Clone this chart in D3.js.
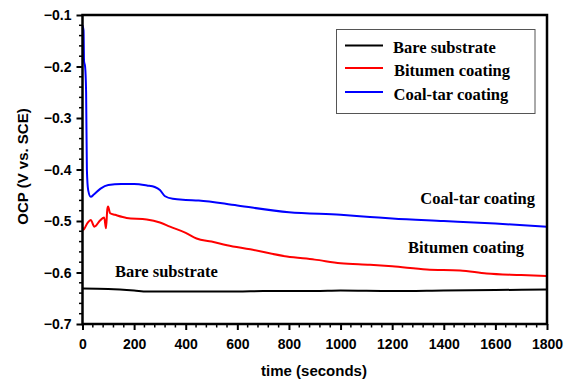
<!DOCTYPE html>
<html>
<head>
<meta charset="utf-8">
<script src="https://cdn.jsdelivr.net/npm/d3@7/dist/d3.min.js"></script>
<style>
  html, body { margin: 0; padding: 0; background: #fff; }
  svg { display: block; }
</style>
</head>
<body>
<svg id="chart" width="568" height="380"></svg>
<script>
// Open circuit potential vs. time for three specimens
const bareTime  = [0, 100, 200, 250, 400, 600, 700, 900, 1000, 1200, 1400, 1600, 1800];
const bareOCP   = [-0.631, -0.632, -0.635, -0.637, -0.637, -0.637, -0.636, -0.636, -0.635, -0.636, -0.635, -0.634, -0.633];

const bitTime = [0, 3, 19, 32, 46, 68, 84, 91, 96, 99, 107, 126, 171, 249, 300, 339, 400, 442, 500, 560, 650, 792, 900, 1000, 1114, 1200, 1334, 1463, 1566, 1700, 1800];
const bitOCP  = [-0.512, -0.517, -0.504, -0.498, -0.511, -0.499, -0.493, -0.514, -0.478, -0.472, -0.485, -0.488, -0.494, -0.497, -0.503, -0.511, -0.523, -0.534, -0.540, -0.547, -0.555, -0.569, -0.575, -0.582, -0.585, -0.588, -0.594, -0.596, -0.602, -0.605, -0.607];

const tarTime = [0, 4, 6, 10, 14, 17, 22, 32, 45, 70, 100, 150, 200, 250, 280, 300, 320, 350, 400, 450, 600, 800, 1000, 1114, 1200, 1400, 1600, 1800];
const tarOCP  = [-0.12, -0.13, -0.19, -0.2, -0.25, -0.4, -0.44, -0.453, -0.448, -0.437, -0.430, -0.428, -0.428, -0.431, -0.434, -0.440, -0.452, -0.457, -0.459, -0.460, -0.470, -0.483, -0.488, -0.492, -0.495, -0.500, -0.505, -0.511];

const seriesNames  = ["Bare substrate", "Bitumen coating", "Coal-tar coating"];
const seriesColors = ["#000000", "#ff0000", "#0000ff"];
const xTicks = [0, 200, 400, 600, 800, 1000, 1200, 1400, 1600, 1800];
const yTicks = [-0.1, -0.2, -0.3, -0.4, -0.5, -0.6, -0.7];

const series = [
  { name: seriesNames[0], color: seriesColors[0], t: bareTime, v: bareOCP },
  { name: seriesNames[1], color: seriesColors[1], t: bitTime,  v: bitOCP },
  { name: seriesNames[2], color: seriesColors[2], t: tarTime,  v: tarOCP }
];

const svg = d3.select("#chart");
const plotL = 82.5, plotR = 547, plotT = 15, plotB = 324;

const x = d3.scaleLinear().domain([0, 1800]).range([plotL, plotR]);
const y = d3.scaleLinear().domain([-0.7, -0.1]).range([plotB, plotT]);

const tickFont = "Arial, 'Liberation Sans', sans-serif";
const serif = "'Times New Roman', 'Liberation Serif', serif";

// Curves (clipped to the plot frame)
svg.append("clipPath").attr("id", "plotclip")
  .append("rect").attr("x", plotL).attr("y", plotT).attr("width", plotR - plotL).attr("height", plotB - plotT);

const line = d3.line().x(d => x(d[0])).y(d => y(d[1])).curve(d3.curveMonotoneX);
const g = svg.append("g").attr("clip-path", "url(#plotclip)");
series.forEach(s => {
  g.append("path")
    .datum(s.t.map((t, i) => [t, s.v[i]]))
    .attr("fill", "none")
    .attr("stroke", s.color)
    .attr("stroke-width", 2)
    .attr("stroke-linejoin", "round")
    .attr("d", line);
});

// Minor ticks
const xMinor = d3.range(0, 1801, 40).filter(v => v % 200 !== 0);
const yMinor = d3.range(-70, -9, 2).map(v => v / 100).filter(v => Math.abs(Math.round(v * 100)) % 10 !== 0);

svg.append("g").selectAll("line").data(xMinor).join("line")
  .attr("x1", d => x(d)).attr("x2", d => x(d))
  .attr("y1", plotB).attr("y2", plotB + 3.5)
  .attr("stroke", "#000").attr("stroke-width", 1.5);
svg.append("g").selectAll("line").data(yMinor).join("line")
  .attr("x1", plotL - 3.5).attr("x2", plotL)
  .attr("y1", d => y(d)).attr("y2", d => y(d))
  .attr("stroke", "#000").attr("stroke-width", 1.5);

// Axes
const xAxis = d3.axisBottom(x).tickValues(xTicks).tickSize(6).tickPadding(6).tickFormat(d3.format("d"));
const yAxis = d3.axisLeft(y).tickValues(yTicks).tickSize(6).tickPadding(5).tickFormat(d3.format(".1f"));

const gx = svg.append("g").attr("transform", `translate(0,${plotB})`).call(xAxis);
const gy = svg.append("g").attr("transform", `translate(${plotL},0)`).call(yAxis);
[gx, gy].forEach(a => {
  a.select(".domain").remove();
  a.selectAll(".tick line").attr("stroke", "#000").attr("stroke-width", 2);
  a.selectAll(".tick text")
    .attr("font-family", tickFont).attr("font-weight", "bold")
    .attr("font-size", 14).attr("fill", "#000");
});
gx.selectAll(".tick text").attr("dy", "0.9em");
gy.selectAll(".tick text").attr("dy", "0.35em");

// Frame
svg.append("rect")
  .attr("x", plotL).attr("y", plotT)
  .attr("width", plotR - plotL).attr("height", plotB - plotT)
  .attr("fill", "none").attr("stroke", "#000").attr("stroke-width", 2.5);

// Axis titles
svg.append("text")
  .attr("x", 314).attr("y", 376)
  .attr("text-anchor", "middle")
  .attr("font-family", tickFont).attr("font-weight", "bold").attr("font-size", 15)
  .text("time (seconds)");
svg.append("text")
  .attr("transform", `translate(28,166.5) rotate(-90)`)
  .attr("text-anchor", "middle")
  .attr("font-family", tickFont).attr("font-weight", "bold").attr("font-size", 15)
  .text("OCP (V vs. SCE)");

// Legend
const lg = svg.append("g");
lg.append("rect").attr("x", 336.5).attr("y", 29.5).attr("width", 198.5).attr("height", 84)
  .attr("fill", "#fff").attr("stroke", "#555").attr("stroke-width", 1);
const legendY = [45.5, 68, 92];
const legendX = [393, 394, 393.5];
series.forEach((s, i) => {
  lg.append("line").attr("x1", 345).attr("x2", 383)
    .attr("y1", legendY[i]).attr("y2", legendY[i])
    .attr("stroke", s.color).attr("stroke-width", 2);
  lg.append("text").attr("x", legendX[i]).attr("y", legendY[i] + 7.5)
    .attr("font-family", serif).attr("font-weight", "bold").attr("font-size", 16.5)
    .attr("fill", "#000").text(s.name);
});

// Curve annotations
const notes = [
  { text: seriesNames[2], x: 535, y: 204, anchor: "end" },
  { text: seriesNames[1], x: 524, y: 252.5, anchor: "end" },
  { text: seriesNames[0], x: 115, y: 277, anchor: "start" }
];
notes.forEach(n => {
  svg.append("text").attr("x", n.x).attr("y", n.y).attr("text-anchor", n.anchor)
    .attr("font-family", serif).attr("font-weight", "bold").attr("font-size", 16.5)
    .attr("fill", "#000").text(n.text);
});
</script>
</body>
</html>
